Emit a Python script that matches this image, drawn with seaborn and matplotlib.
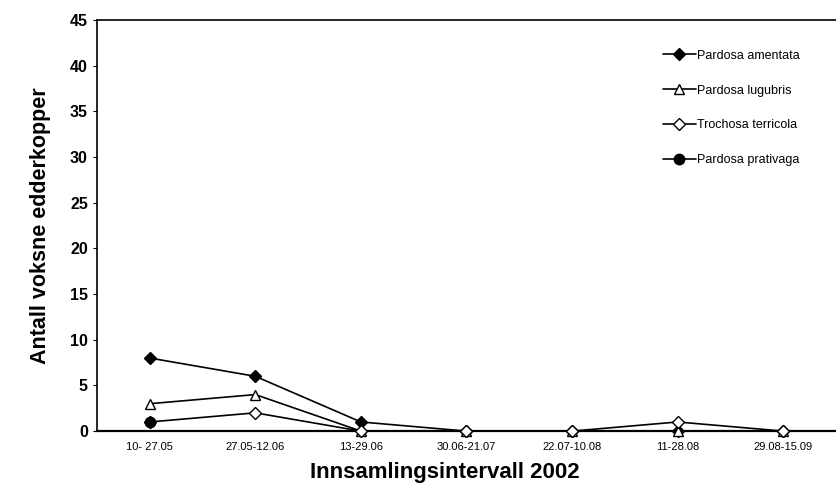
import numpy as np
import pandas as pd
import matplotlib.pyplot as plt
import seaborn as sns

intervaller = ["10- 27.05", "27.05-12.06", "13-29.06", "30.06-21.07",
               "22.07-10.08", "11-28.08", "29.08-15.09"]
amentata = [8, 6, 1, 0, 0, 0, 0]
lugubris = [3, 4, 0, 0, 0, 0, 0]
terricola = [1, 2, 0, 0, 0, 1, 0]
prativaga = [1, np.nan, np.nan, np.nan, np.nan, np.nan, np.nan]

sns.set_style("white")
plt.rcParams['font.family'] = ['Liberation Sans', 'DejaVu Sans']
plt.rcParams['text.color'] = 'black'
plt.rcParams['axes.labelcolor'] = 'black'
plt.rcParams['xtick.color'] = 'black'
plt.rcParams['ytick.color'] = 'black'

fig = plt.figure(figsize=(8.36, 4.91), dpi=100)
ax = fig.add_axes([0.116, 0.122, 0.884, 0.837])

x = np.arange(len(intervaller))
serier = [
    ("Pardosa amentata", amentata, "D", "black"),
    ("Pardosa lugubris", lugubris, "^", "white"),
    ("Trochosa terricola", terricola, "D", "white"),
    ("Pardosa prativaga", prativaga, "o", "black"),
]
for navn, verdier, mk, fc in serier:
    df = pd.DataFrame({"x": x, "y": verdier})
    sns.lineplot(data=df, x="x", y="y", ax=ax, color="black", lw=1.2,
                 marker=mk, markersize=6.5 if mk != "o" else 7.5,
                 markerfacecolor=fc, markeredgecolor="black", markeredgewidth=1,
                 label=navn, clip_on=False, zorder=3)

ax.set_xlim(-0.5, len(intervaller) - 0.5)
ax.set_ylim(0, 45)
ax.set_yticks(range(0, 46, 5))
ax.set_xticks(x)
ax.set_xticklabels(intervaller, fontsize=8)
for t in ax.get_yticklabels():
    t.set_fontweight("bold")
    t.set_fontsize(11.5)
ax.tick_params(axis="x", length=0, pad=8)
ax.tick_params(axis="y", length=3, direction="out", left=True)

for s in ["left", "top", "bottom"]:
    ax.spines[s].set_color("black")
    ax.spines[s].set_linewidth(1.2)
ax.spines["bottom"].set_linewidth(1.6)
ax.spines["right"].set_visible(False)

ax.set_xlabel("Innsamlingsintervall 2002", fontsize=16, fontweight="bold", labelpad=8)
ax.xaxis.set_label_coords(0.47, -0.075)
ax.set_ylabel("Antall voksne edderkopper", fontsize=15.5, fontweight="bold", labelpad=14)

leg = ax.legend(loc="upper right", bbox_to_anchor=(0.966, 0.955), frameon=False,
                fontsize=9, labelspacing=1.82, handlelength=2.6, handletextpad=0.1)

fig.savefig("out.png", dpi=100)
